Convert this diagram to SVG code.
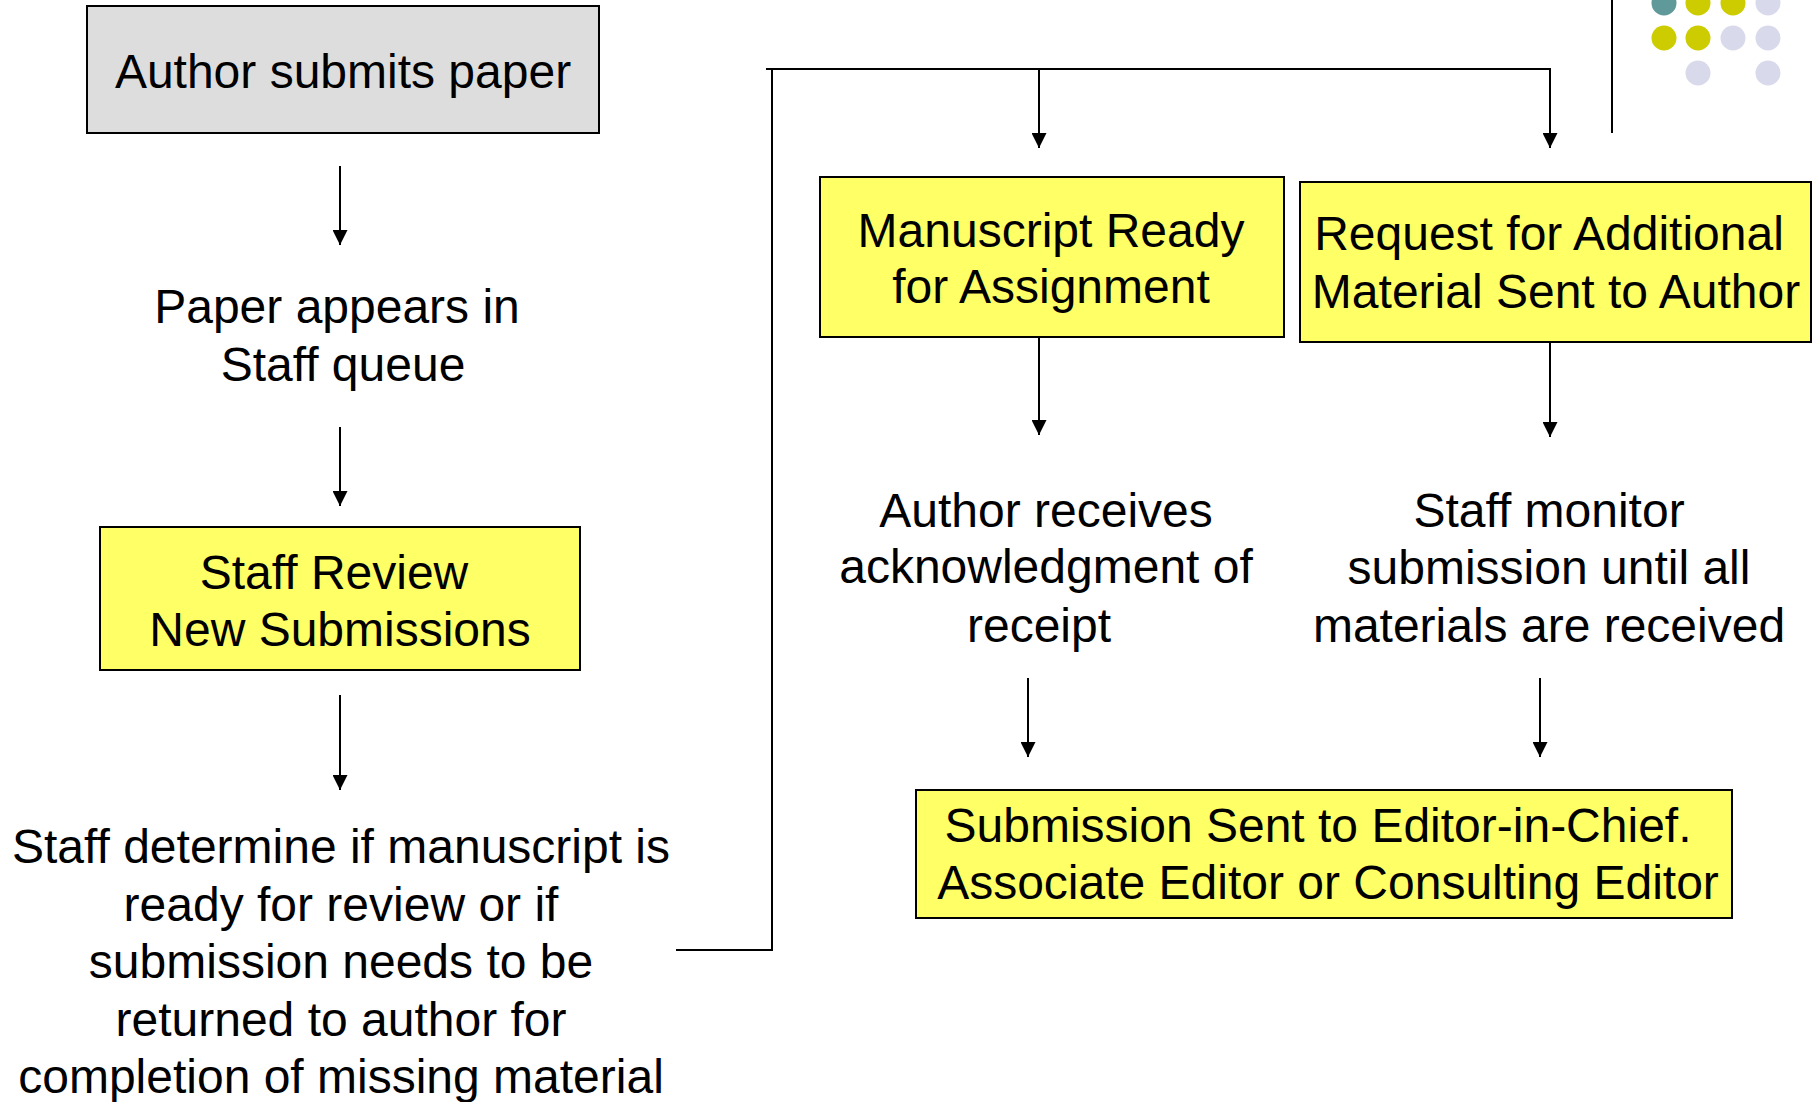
<svg xmlns="http://www.w3.org/2000/svg" width="1818" height="1102" viewBox="0 0 1818 1102">
<style>
  text { font-family: "Liberation Sans", Arial, sans-serif; font-size: 48px; fill: #000; text-anchor: middle; }
  .box { stroke: #000; stroke-width: 2; }
  .yellow { fill: #ffff66; }
  .gray { fill: #dddddd; }
  .conn { fill: none; stroke: #000; stroke-width: 2; }
  .arrow { fill: none; stroke: #000; stroke-width: 2; marker-end: url(#head); }
</style>
<defs>
  <marker id="head" viewBox="0 0 16 16" refX="16" refY="8" markerWidth="16" markerHeight="15" markerUnits="userSpaceOnUse" orient="auto">
    <path d="M0,0 L16,8 L0,16 z" fill="#000"/>
  </marker>
</defs>
<rect width="1818" height="1102" fill="#ffffff"/>

<g id="decoration">
  <line x1="1612" y1="0" x2="1612" y2="133" stroke="#000" stroke-width="2"/>
  <circle cx="1664" cy="3" r="12.5" fill="#5f9999"/>
  <circle cx="1698" cy="3" r="12.5" fill="#cccc00"/>
  <circle cx="1733" cy="3" r="12.5" fill="#cccc00"/>
  <circle cx="1768" cy="3" r="12.5" fill="#d9d9ec"/>
  <circle cx="1664" cy="38" r="12.5" fill="#cccc00"/>
  <circle cx="1698" cy="38" r="12.5" fill="#cccc00"/>
  <circle cx="1733" cy="38" r="12.5" fill="#d9d9ec"/>
  <circle cx="1768" cy="38" r="12.5" fill="#d9d9ec"/>
  <circle cx="1698" cy="73" r="12.5" fill="#d9d9ec"/>
  <circle cx="1768" cy="73" r="12.5" fill="#d9d9ec"/>
</g>

<g id="connectors">
  <line class="arrow" x1="340" y1="166" x2="340" y2="245"/>
  <line class="arrow" x1="340" y1="427" x2="340" y2="506"/>
  <line class="arrow" x1="340" y1="695" x2="340" y2="790"/>
  <polyline class="conn" points="676,950 772,950 772,69"/>
  <line class="conn" x1="766" y1="69" x2="1551" y2="69"/>
  <line class="arrow" x1="1039" y1="69" x2="1039" y2="148"/>
  <line class="arrow" x1="1550" y1="69" x2="1550" y2="148"/>
  <line class="arrow" x1="1039" y1="337" x2="1039" y2="435"/>
  <line class="arrow" x1="1550" y1="342" x2="1550" y2="437"/>
  <line class="arrow" x1="1028" y1="678" x2="1028" y2="757"/>
  <line class="arrow" x1="1540" y1="678" x2="1540" y2="757"/>
</g>

<g id="author-submits">
  <rect class="box gray" x="87" y="6" width="512" height="127"/>
  <text x="343" y="88">Author submits paper</text>
</g>

<g id="paper-appears">
  <text x="337" y="323">Paper appears in</text>
  <text x="343" y="381">Staff queue</text>
</g>

<g id="staff-review">
  <rect class="box yellow" x="100" y="527" width="480" height="143"/>
  <text x="334" y="589">Staff Review</text>
  <text x="340" y="646">New Submissions</text>
</g>

<g id="staff-determine">
  <text x="341" y="863">Staff determine if manuscript is</text>
  <text x="341" y="921">ready for review or if</text>
  <text x="341" y="978">submission needs to be</text>
  <text x="341" y="1036">returned to author for</text>
  <text x="341" y="1093">completion of missing material</text>
</g>

<g id="manuscript-ready">
  <rect class="box yellow" x="820" y="177" width="464" height="160"/>
  <text x="1051" y="247">Manuscript Ready</text>
  <text x="1051" y="303">for Assignment</text>
</g>

<g id="request-material">
  <rect class="box yellow" x="1300" y="182" width="511" height="160"/>
  <text x="1549" y="250">Request for Additional</text>
  <text x="1556" y="308">Material Sent to Author</text>
</g>

<g id="author-receives">
  <text x="1046" y="527">Author receives</text>
  <text x="1046" y="583">acknowledgment of</text>
  <text x="1039" y="642">receipt</text>
</g>

<g id="staff-monitor">
  <text x="1549" y="527">Staff monitor</text>
  <text x="1549" y="584">submission until all</text>
  <text x="1549" y="642">materials are received</text>
</g>

<g id="submission-sent">
  <rect class="box yellow" x="916" y="790" width="816" height="128"/>
  <text x="1318" y="842">Submission Sent to Editor-in-Chief.</text>
  <text x="1328" y="899">Associate Editor or Consulting Editor</text>
</g>
</svg>
